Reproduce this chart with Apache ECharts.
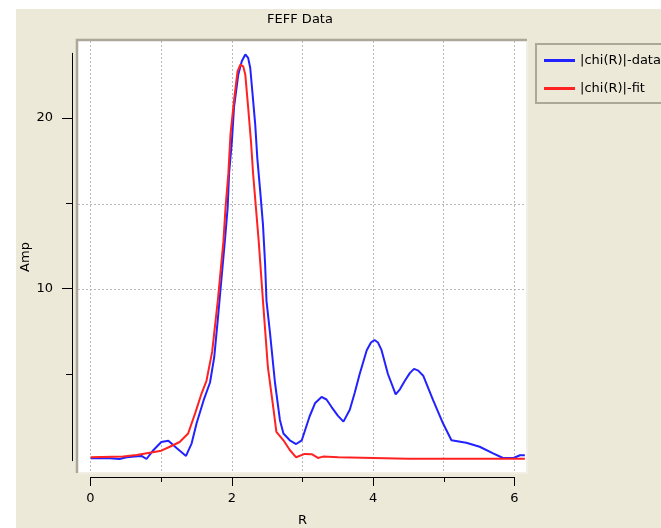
<!DOCTYPE html>
<html>
<head>
<meta charset="utf-8">
<title>FEFF Data</title>
<script src="https://cdn.jsdelivr.net/npm/echarts@6/dist/echarts.min.js"></script>
<style>
  html, body { margin: 0; padding: 0; background: #fff; }
  #chart { width: 661px; height: 528px; }
</style>
</head>
<body>
<div id="chart"></div>
<script>
// |chi(R)|-data
const dataR = [0.00, 0.15, 0.27, 0.41, 0.51, 0.62, 0.72, 0.79, 0.89, 1.00, 1.10, 1.22, 1.35, 1.43, 1.50, 1.60, 1.69, 1.75, 1.80, 1.85, 1.90, 1.94, 1.96, 2.00, 2.03, 2.09, 2.14, 2.19, 2.23, 2.26, 2.29, 2.33, 2.36, 2.40, 2.44, 2.47, 2.49, 2.54, 2.61, 2.68, 2.73, 2.82, 2.91, 2.99, 3.10, 3.18, 3.27, 3.34, 3.41, 3.50, 3.58, 3.67, 3.74, 3.81, 3.91, 3.97, 4.02, 4.07, 4.12, 4.21, 4.32, 4.38, 4.45, 4.52, 4.58, 4.64, 4.71, 4.85, 4.99, 5.11, 5.32, 5.51, 5.70, 5.84, 5.99, 6.08, 6.15];
const dataAmp = [0.05, 0.05, 0.04, 0.00, 0.10, 0.14, 0.18, 0.00, 0.53, 1.00, 1.07, 0.63, 0.18, 0.92, 2.10, 3.46, 4.50, 6.00, 8.20, 10.5, 12.8, 14.8, 16.8, 18.7, 20.7, 22.6, 23.4, 23.8, 23.6, 23.0, 21.6, 19.7, 17.7, 15.8, 13.8, 11.5, 9.30, 7.40, 4.50, 2.30, 1.50, 1.10, 0.88, 1.10, 2.50, 3.30, 3.65, 3.50, 3.07, 2.55, 2.20, 2.90, 3.90, 5.00, 6.40, 6.85, 7.00, 6.85, 6.40, 5.00, 3.80, 4.10, 4.60, 5.05, 5.30, 5.20, 4.90, 3.46, 2.10, 1.10, 0.96, 0.72, 0.33, 0.06, 0.06, 0.22, 0.22];

// |chi(R)|-fit
const fitR = [0.00, 0.46, 0.65, 1.00, 1.12, 1.26, 1.38, 1.48, 1.57, 1.64, 1.72, 1.80, 1.88, 1.91, 1.95, 1.98, 2.03, 2.08, 2.12, 2.16, 2.19, 2.23, 2.27, 2.30, 2.34, 2.38, 2.44, 2.51, 2.59, 2.63, 2.73, 2.82, 2.91, 3.03, 3.13, 3.22, 3.29, 3.51, 3.53, 4.50, 6.15];
const fitAmp = [0.10, 0.14, 0.23, 0.49, 0.72, 1.00, 1.50, 2.70, 3.85, 4.60, 6.30, 9.30, 12.8, 14.8, 16.8, 19.1, 21.1, 22.8, 23.2, 23.1, 22.6, 20.7, 18.7, 16.8, 14.8, 12.8, 9.30, 5.40, 2.90, 1.60, 1.10, 0.53, 0.10, 0.30, 0.28, 0.06, 0.14, 0.10, 0.02, 0.02, 0.02];

const seriesNames = ["|chi(R)|-data", "|chi(R)|-fit"];
const xTicks = [0, 2, 4, 6];
const yTicks = [10, 20];
const yMinorTicks = [5, 15];
const yGridValues = [5, 10, 15, 20];

const font = "DejaVu Sans";
const beige = "#ECE9D8";

const toPairs = (xs, ys) => xs.map((x, i) => [x, ys[i]]);

const chart = echarts.init(document.getElementById("chart"), null, { renderer: "canvas" });

chart.setOption({
  animation: false,
  backgroundColor: beige,
  title: {
    text: "FEFF Data",
    left: 300,
    top: 13,
    padding: 0,
    textAlign: "center",
    textStyle: { fontFamily: font, fontSize: 13, fontWeight: "normal", color: "#000" },
  },
  legend: {
    data: seriesNames,
    orient: "vertical",
    left: 536,
    top: 44,
    padding: [10, 60, 8, 8],
    borderColor: "#aca899",
    borderWidth: 2,
    icon: "rect",
    itemWidth: 31,
    itemHeight: 3,
    itemGap: 15,
    textStyle: { fontFamily: font, fontSize: 13, color: "#000" },
  },
  graphic: [
    // white strips around the beige panel
    { type: "rect", shape: { x: 0, y: 0, width: 661, height: 9 }, style: { fill: "#fff" }, silent: true },
    { type: "rect", shape: { x: 0, y: 0, width: 16, height: 528 }, style: { fill: "#fff" }, silent: true },
    // sunken frame of the plot box
    { type: "polyline", shape: { points: [[77, 473], [77, 40], [527, 40]] }, style: { stroke: "#aca899", lineWidth: 2.5, fill: null }, silent: true },
    { type: "polyline", shape: { points: [[78, 473], [527, 473], [527, 41]] }, style: { stroke: "#f6f5ef", lineWidth: 1, fill: null }, silent: true },
  ],
  grid: [
    // plot area
    { left: 78, right: 135, top: 41, bottom: 56, show: true, backgroundColor: "#fff", borderWidth: 0 },
    // x axis strip
    { left: 90.5, right: 146.5, top: 470, bottom: 49 },
    // y axis strip
    { left: 72, width: 1, top: 53.3, bottom: 67.3 },
  ],
  xAxis: [
    {
      gridIndex: 0, type: "value", min: -0.18, max: 6.166, splitNumber: 6,
      axisLine: { show: false }, axisTick: { show: false }, axisLabel: { show: false },
      splitLine: { show: true, showMinLine: false, showMaxLine: false, lineStyle: { color: "#b8b8b8", type: [2, 2], width: 1 } },
    },
    {
      gridIndex: 1, type: "value", min: 0, max: 6, interval: 2, position: "bottom",
      name: "R", nameLocation: "middle", nameGap: 37,
      nameTextStyle: { fontFamily: font, fontSize: 13, color: "#000" },
      axisLine: { lineStyle: { color: "#000", width: 1 } },
      axisTick: { show: true, inside: false, length: 9, lineStyle: { color: "#000" } },
      minorTick: { show: true, splitNumber: 2, length: 5, lineStyle: { color: "#000" } },
      axisLabel: { margin: 15, fontFamily: font, fontSize: 13, color: "#000", customValues: xTicks },
      splitLine: { show: false },
    },
    { gridIndex: 2, type: "value", show: false },
  ],
  yAxis: [
    {
      gridIndex: 0, type: "value", min: -0.765, max: 24.59, splitNumber: 5,
      axisLine: { show: false }, axisTick: { show: false, customValues: yGridValues }, axisLabel: { show: false },
      splitLine: { show: true, showMinLine: false, showMaxLine: false, lineStyle: { color: "#b8b8b8", type: [2, 2], width: 1 } },
    },
    { gridIndex: 1, type: "value", show: false },
    {
      gridIndex: 2, type: "value", min: -0.1, max: 23.8, position: "left",
      name: "Amp", nameLocation: "middle", nameGap: 40,
      nameTextStyle: { fontFamily: font, fontSize: 13, color: "#000" },
      axisLine: { show: true, lineStyle: { color: "#000", width: 1 } },
      axisTick: { show: true, inside: false, length: 10, customValues: yTicks, lineStyle: { color: "#000" } },
      axisLabel: { margin: 19, fontFamily: font, fontSize: 13, color: "#000", customValues: yTicks },
      splitLine: { show: false },
    },
    {
      // minor ticks on the y axis
      gridIndex: 2, type: "value", min: -0.1, max: 23.8, position: "left",
      axisLine: { show: false },
      axisTick: { show: true, inside: false, length: 6, customValues: yMinorTicks, lineStyle: { color: "#000" } },
      axisLabel: { show: false },
      splitLine: { show: false },
    },
  ],
  series: [
    {
      name: seriesNames[0], type: "line", xAxisIndex: 0, yAxisIndex: 0,
      data: toPairs(dataR, dataAmp), symbol: "none",
      lineStyle: { color: "#2222ff", width: 2 }, itemStyle: { color: "#2222ff" },
    },
    {
      name: seriesNames[1], type: "line", xAxisIndex: 0, yAxisIndex: 0,
      data: toPairs(fitR, fitAmp), symbol: "none",
      lineStyle: { color: "#ff2222", width: 2 }, itemStyle: { color: "#ff2222" },
    },
  ],
});
</script>
</body>
</html>
